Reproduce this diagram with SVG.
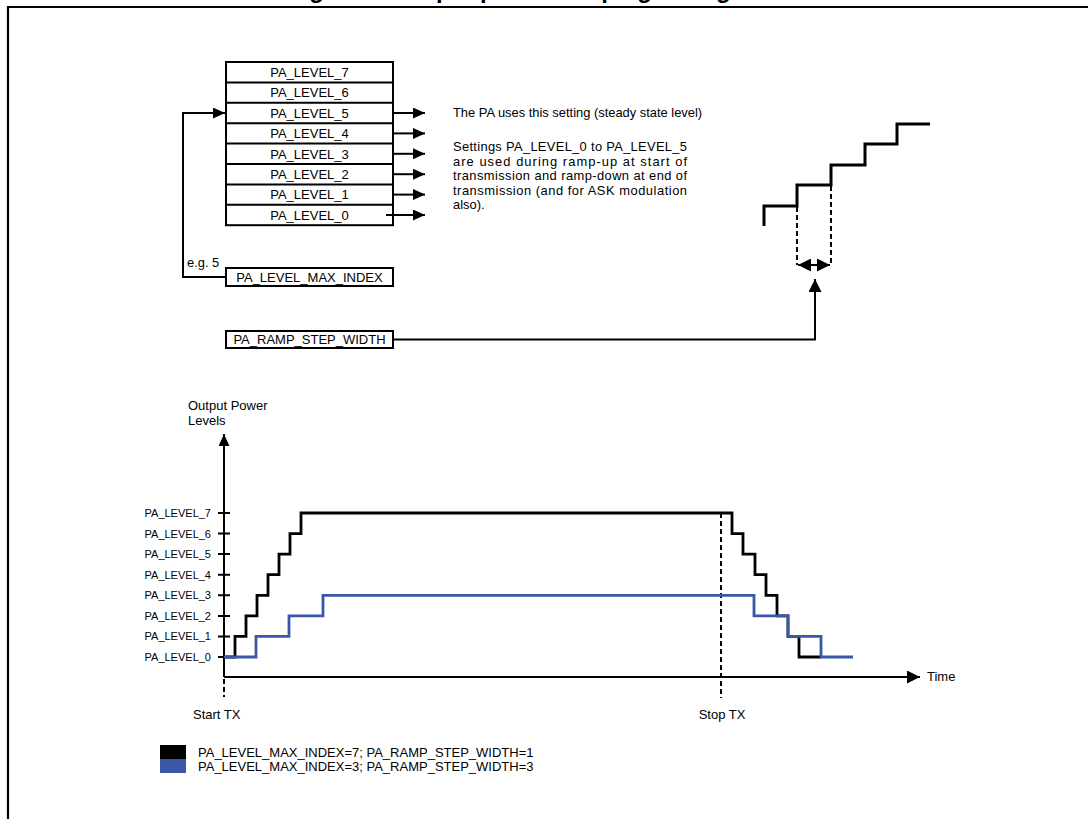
<svg xmlns="http://www.w3.org/2000/svg" width="1088" height="819" viewBox="0 0 1088 819">
<style>
text{font-family:"Liberation Sans",Arial,sans-serif;fill:#000}
.reg{font-size:13px;text-anchor:middle}
.note{font-size:12.9px}
.lvl{font-size:11px;text-anchor:end}
.ax{font-size:13px}
.box{fill:#fff;stroke:#000;stroke-width:2}
.ln{fill:none;stroke:#000;stroke-width:2}
.arr{fill:none;stroke:#000;stroke-width:2;marker-end:url(#ah)}
.dash{fill:none;stroke:#000;stroke-width:2;stroke-dasharray:5 3}
.stair{fill:none;stroke:#000;stroke-width:3}
.blk{fill:none;stroke:#000;stroke-width:2.8}
.blu{fill:none;stroke:#3b57a7;stroke-width:2.8}
</style>
<defs>
<marker id="ah" viewBox="0 0 12 11" refX="12" refY="5.5" markerWidth="12" markerHeight="11" markerUnits="userSpaceOnUse" orient="auto-start-reverse"><path d="M0,0 L12,5.5 L0,11 z" fill="#000"/></marker>
<marker id="ahb" viewBox="0 0 13 13" refX="13" refY="6.5" markerWidth="13" markerHeight="13" markerUnits="userSpaceOnUse" orient="auto-start-reverse"><path d="M0,0 L13,6.5 L0,13 z" fill="#000"/></marker>
</defs>
<rect width="1088" height="819" fill="#fff"/>
<text x="550" y="-2" font-size="24" font-weight="bold" text-anchor="middle">Figure 9. Output power ramping configuration</text>
<path d="M8,819 V7 H1088" fill="none" stroke="#000" stroke-width="2.2"/>

<g id="pa_table">
<rect class="box" x="226" y="62" width="167" height="163.2"/>
<path class="ln" d="M226,82.4 H393 M226,102.8 H393 M226,123.2 H393 M226,143.6 H393 M226,164 H393 M226,184.4 H393 M226,204.8 H393"/>
<text class="reg" x="309.5" y="76.9">PA_LEVEL_7</text>
<text class="reg" x="309.5" y="97.3">PA_LEVEL_6</text>
<text class="reg" x="309.5" y="117.7">PA_LEVEL_5</text>
<text class="reg" x="309.5" y="138.1">PA_LEVEL_4</text>
<text class="reg" x="309.5" y="158.5">PA_LEVEL_3</text>
<text class="reg" x="309.5" y="178.9">PA_LEVEL_2</text>
<text class="reg" x="309.5" y="199.3">PA_LEVEL_1</text>
<text class="reg" x="309.5" y="219.7">PA_LEVEL_0</text>
</g>

<g id="max_index">
<rect class="box" x="226" y="268" width="167" height="18"/>
<text class="reg" x="309.5" y="281.7">PA_LEVEL_MAX_INDEX</text>
<text class="note" x="187" y="267">e.g. 5</text>
</g>

<g id="ramp_step">
<rect class="box" x="226" y="331" width="167" height="17"/>
<text class="reg" x="309.5" y="344.2">PA_RAMP_STEP_WIDTH</text>
</g>

<g id="notes">
<text class="note" x="453" y="117">The PA uses this setting (steady state level)</text>
<text class="note" x="453" y="151" textLength="234" lengthAdjust="spacing">Settings PA_LEVEL_0 to PA_LEVEL_5</text>
<text class="note" x="453" y="165.5" textLength="234" lengthAdjust="spacing">are used during ramp-up at start of</text>
<text class="note" x="453" y="180" textLength="234" lengthAdjust="spacing">transmission and ramp-down at end of</text>
<text class="note" x="453" y="194.5" textLength="234" lengthAdjust="spacing">transmission (and for ASK modulation</text>
<text class="note" x="453" y="209">also).</text>
</g>

<g id="staircase">
<path class="stair" d="M764,226 V206 H797 V185 H831 V165 H865 V144 H897 V124 H930"/>
<path class="dash" d="M797,207 V265 M831,186 V265"/>
</g>

<g id="connectors">
<path class="arr" d="M393,113 H425"/>
<path class="arr" d="M393,133.4 H425"/>
<path class="arr" d="M393,153.8 H425"/>
<path class="arr" d="M393,174.2 H425"/>
<path class="arr" d="M393,194.6 H425"/>
<path class="arr" d="M386,215 H425"/>
<path class="ln" d="M226,277 H183 V113 H200"/>
<path class="arr" d="M198,113 H225"/>
<path class="ln" d="M798,265 H830" marker-start="url(#ahb)" marker-end="url(#ahb)"/>
<path class="ln" d="M393,339.5 H815 V279" marker-end="url(#ahb)"/>
</g>

<g id="chart">
<path class="ln" stroke-width="2.5" d="M224,677 V434" marker-end="url(#ah)"/>
<path class="ln" stroke-width="2.5" d="M224,677 H920" marker-end="url(#ahb)"/>
<path class="dash" d="M224,679 V697"/>
<path class="dash" d="M721,513 V698"/>
<path class="ln" d="M218,657 H230 M218,636.4 H230 M218,615.9 H230 M218,595.3 H230 M218,574.7 H230 M218,554.1 H230 M218,533.6 H230 M218,513 H230"/>
<text class="lvl" x="211" y="517">PA_LEVEL_7</text>
<text class="lvl" x="211" y="537.6">PA_LEVEL_6</text>
<text class="lvl" x="211" y="558.1">PA_LEVEL_5</text>
<text class="lvl" x="211" y="578.7">PA_LEVEL_4</text>
<text class="lvl" x="211" y="599.3">PA_LEVEL_3</text>
<text class="lvl" x="211" y="619.9">PA_LEVEL_2</text>
<text class="lvl" x="211" y="640.4">PA_LEVEL_1</text>
<text class="lvl" x="211" y="661">PA_LEVEL_0</text>
<path class="blk" d="M224,657 H235 V636.4 H246 V615.9 H257 V595.3 H268 V574.7 H279 V554.1 H290 V533.6 H301 V513 H732 V533.6 H743 V554.1 H755 V574.7 H766 V595.3 H777 V615.9 H788 V636.4 H799 V657 H821"/>
<path class="blu" d="M224,657 H256 V636.4 H289 V615.9 H323 V595.3 H754 V615.9 H788 V636.4 H821 V657 H853"/>
<text class="ax" x="188" y="410">Output Power</text>
<text class="ax" x="188" y="425">Levels</text>
<text class="ax" x="927" y="681">Time</text>
<text class="ax" x="193" y="719">Start TX</text>
<text class="ax" x="722" y="719" text-anchor="middle">Stop TX</text>
</g>

<g id="legend">
<rect x="160" y="745" width="26" height="14" fill="#000"/>
<rect x="160" y="759" width="26" height="14" fill="#3b57a7"/>
<text class="ax" x="198" y="757">PA_LEVEL_MAX_INDEX=7; PA_RAMP_STEP_WIDTH=1</text>
<text class="ax" x="198" y="771">PA_LEVEL_MAX_INDEX=3; PA_RAMP_STEP_WIDTH=3</text>
</g>
</svg>
